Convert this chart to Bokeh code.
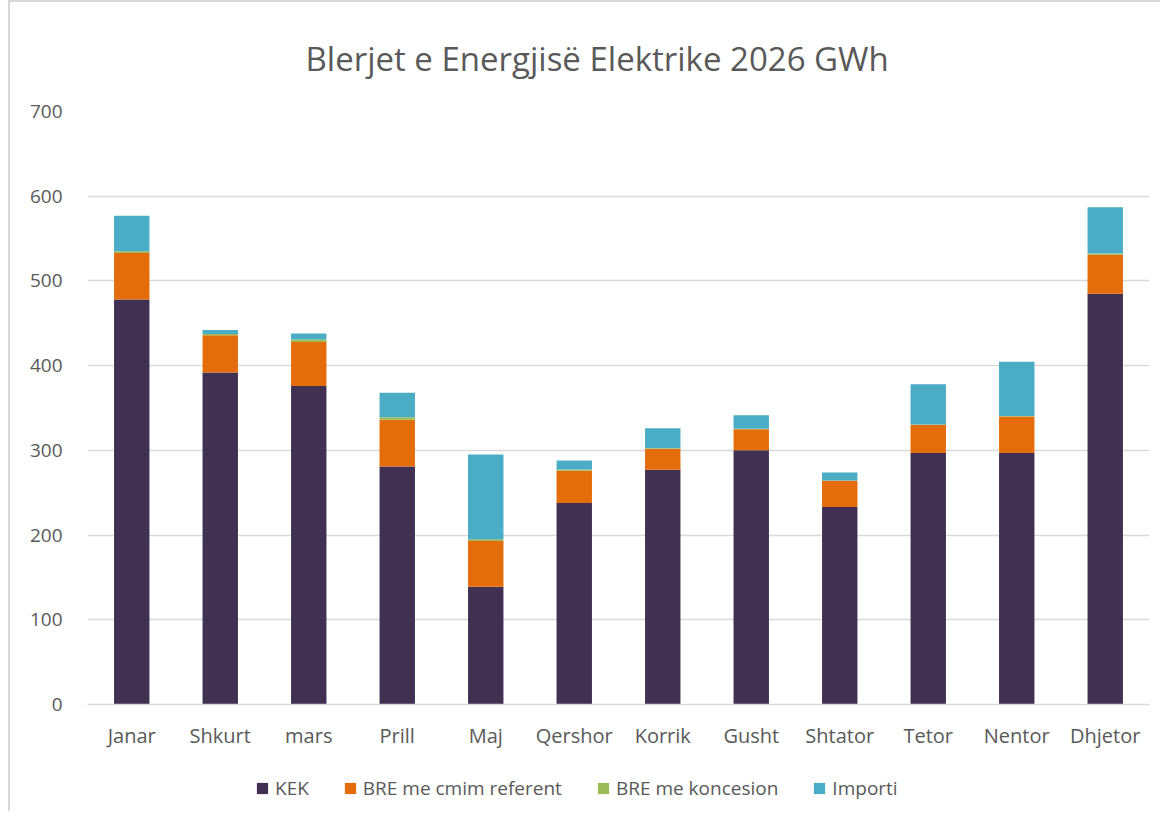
from bokeh.plotting import figure
from bokeh.layouts import column
from bokeh.models import Range1d, FactorRange, Legend, LegendItem, Title, ColumnDataSource, SingleIntervalTicker
from bokeh.core.properties import value
from bokeh.embed import file_html
from bokeh.resources import INLINE

months = ["Janar", "Shkurt", "mars", "Prill", "Maj", "Qershor", "Korrik",
          "Gusht", "Shtator", "Tetor", "Nentor", "Dhjetor"]
kek = [478, 392, 376, 281, 139, 238, 277, 300, 233, 297, 297, 485]
bre_ref = [55, 44, 52, 55, 54, 38, 25, 25, 31, 33, 43, 46]
bre_konc = [2, 1.5, 3, 3, 2, 1.5, 0.5, 0.5, 0.5, 0.5, 0.5, 1.5]
importi = [42, 4.5, 7, 29, 100, 10.5, 23.5, 16, 9.5, 47.5, 64, 54.5]

series = ["KEK", "BRE me cmim referent", "BRE me koncesion", "Importi"]
colors = ["#403152", "#E46C0A", "#9BBB59", "#4BACC6"]
title_text = "Blerjet e Energjisë Elektrike 2026 GWh"

FONT = "Open Sans"
TXT = "#595959"

cols = ["s_kek", "s_bre_ref", "s_bre_konc", "s_importi"]
source = ColumnDataSource(data={
    "month": months,
    "s_kek": kek,
    "s_bre_ref": bre_ref,
    "s_bre_konc": bre_konc,
    "s_importi": importi,
})

p = figure(width=1150, height=758, x_range=FactorRange(*months), y_range=Range1d(0, 700),
           output_backend="svg", toolbar_location=None, title=None,
           min_border_left=77, min_border_right=11, min_border_top=109, min_border_bottom=56)

renderers = p.vbar_stack(cols, x="month", width=0.4, color=colors, source=source, line_width=0)

p.outline_line_color = None
p.xgrid.grid_line_color = None
p.ygrid.grid_line_color = "#d9d9d9"
p.ygrid.grid_line_width = 1.3
p.yaxis.ticker = SingleIntervalTicker(interval=100)

for ax in [p.xaxis[0], p.yaxis[0]]:
    ax.major_tick_line_color = None
    ax.minor_tick_line_color = None
    ax.major_label_text_font = FONT
    ax.major_label_text_font_size = "19px"
    ax.major_label_text_color = TXT
p.xaxis.major_label_text_font_size = "20px"
p.yaxis.axis_line_color = None
p.xaxis.axis_line_color = "#d9d9d9"
p.xaxis.axis_line_width = 1.3
p.yaxis.major_label_standoff = 19
p.xaxis.major_label_standoff = 11

title = Title(text=title_text, align="left", offset=218, text_font=FONT, text_font_size="33px",
              text_font_style="normal", text_color=TXT, standoff=62)
p.add_layout(title, "above")

# legend strip below the chart
lg = figure(width=1150, height=51, output_backend="svg", toolbar_location=None,
            x_axis_location=None, y_axis_location=None,
            x_range=Range1d(0, 1), y_range=Range1d(0, 1),
            min_border_left=0, min_border_right=0, min_border_top=0, min_border_bottom=0)
lg.outline_line_color = None
lg.xgrid.visible = False
lg.ygrid.visible = False
swatches = [lg.vbar(x=[-10], top=[0], width=0.1, fill_color=c, line_color=None) for c in colors]
items = [LegendItem(label=value(s), renderers=[r]) for s, r in zip(series, swatches)]
legend = Legend(items=items, orientation="horizontal", location=(168, 10),
                glyph_width=14, glyph_height=14, label_standoff=6, spacing=34,
                padding=0, margin=0, border_line_color=None, background_fill_alpha=0,
                label_text_font=FONT, label_text_font_size="19px", label_text_color=TXT)
lg.add_layout(legend, "center")

layout = column(p, lg, spacing=0)
layout.styles = {"margin-left": "8px",
                 "border-left": "2px solid #d9d9d9", "border-top": "2px solid #d9d9d9"}
open("out.html", "w").write(file_html(layout, INLINE))
